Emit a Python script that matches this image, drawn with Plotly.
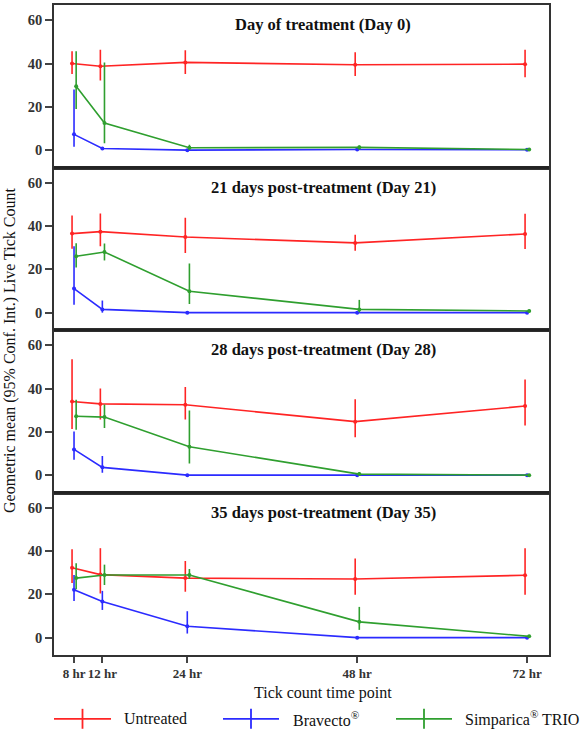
import plotly.graph_objects as go
from plotly.subplots import make_subplots

hours = [8, 12, 24, 48, 72]
hour_labels = ["8 hr", "12 hr", "24 hr", "48 hr", "72 hr"]
panel_titles = ["Day of treatment (Day 0)", "21 days post-treatment (Day 21)",
                "28 days post-treatment (Day 28)", "35 days post-treatment (Day 35)"]
group_names = ["Untreated", "Bravecto<sup>®</sup>", "Simparica<sup>®</sup> TRIO"]

untreated_mean = [[40.0, 38.7, 40.5, 39.4, 39.7], [36.5, 37.4, 34.9, 32.2, 36.3],
                  [34.0, 32.9, 32.5, 24.7, 31.9], [32.3, 29.1, 27.5, 27.1, 28.8]]
untreated_lo = [[35.2, 32.2, 35.2, 34.2, 33.7], [29.5, 30.6, 27.5, 28.6, 29.4],
                [21.3, 25.7, 25.7, 17.5, 22.9], [25.2, 20.4, 21.2, 19.8, 19.8]]
untreated_hi = [[45.6, 46.4, 46.1, 45.2, 46.4], [44.8, 45.8, 43.8, 36.0, 45.6],
                [53.5, 40.0, 40.7, 35.0, 44.2], [40.8, 41.3, 35.4, 36.5, 41.3]]

bravecto_mean = [[7.3, 0.8, 0.0, 0.3, 0.2], [11.1, 1.5, 0.0, 0.0, 0.0],
                 [11.9, 3.6, 0.0, 0.0, 0.0], [22.1, 16.7, 5.3, 0.0, 0.0]]
bravecto_lo = [[1.6, 0.3, 0.0, 0.1, 0.1], [3.6, 0.0, 0.0, 0.0, 0.0],
               [7.1, 1.1, 0.0, 0.0, 0.0], [16.9, 12.8, 1.9, 0.0, 0.0]]
bravecto_hi = [[28.0, 1.5, 0.2, 0.6, 0.4], [30.6, 5.6, 0.2, 0.1, 0.1],
               [20.1, 8.8, 0.2, 0.1, 0.1], [28.9, 21.6, 12.2, 0.2, 0.2]]

simparica_mean = [[29.5, 12.5, 1.1, 1.3, 0.3], [26.0, 28.0, 9.9, 1.5, 0.8],
                  [27.2, 26.8, 13.1, 0.5, 0.0], [27.5, 28.9, 28.9, 7.3, 0.6]]
simparica_lo = [[19.0, 3.2, 0.2, 0.3, 0.0], [20.9, 24.1, 4.0, 0.2, 0.1],
                [21.0, 21.8, 5.4, 0.1, 0.0], [22.4, 24.3, 27.1, 3.6, 0.1]]
simparica_hi = [[45.6, 40.5, 2.5, 2.2, 0.8], [32.0, 31.9, 22.7, 5.9, 1.5],
                [34.8, 32.6, 29.8, 1.5, 0.3], [34.3, 33.7, 31.7, 14.2, 1.2]]

colors = ["#ff2424", "#2b2bff", "#2f9f2f"]
dodge = [-0.28, 0.0, 0.3]

W, H = 582, 732
ML, MR, MT, MB = 54, 33, 3, 77
PW = W - ML - MR
PH = H - MT - MB
SERIF = "Liberation Serif, Times New Roman, serif"


def px_x(px):
    return (px - ML) / PW


def px_y(py):
    return (H - MB - py) / PH


fig = make_subplots(rows=4, cols=1, shared_xaxes=True, vertical_spacing=0)

groups = [(untreated_mean, untreated_lo, untreated_hi),
          (bravecto_mean, bravecto_lo, bravecto_hi),
          (simparica_mean, simparica_lo, simparica_hi)]

for p in range(4):
    for g, (m, lo, hi) in enumerate(groups):
        mean = m[p]
        up = [h - v for h, v in zip(hi[p], mean)]
        dn = [v - l for v, l in zip(mean, lo[p])]
        fig.add_trace(go.Scatter(
            x=[h + dodge[g] for h in hours], y=mean, mode="lines+markers",
            line=dict(color=colors[g], width=1.6),
            marker=dict(color=colors[g], size=4),
            error_y=dict(type="data", array=up, arrayminus=dn, symmetric=False,
                         color=colors[g], thickness=1.6, width=0),
            showlegend=False, hoverinfo="skip"), row=p + 1, col=1)

for p in range(4):
    r = p + 1
    fig.update_yaxes(range=[-8, 67], tickvals=[0, 20, 40, 60], ticks="outside",
                     ticklen=7, tickwidth=1.5, tickcolor="#444", showgrid=False,
                     zeroline=False, showline=True, mirror=True, linecolor="#333",
                     linewidth=1.5,
                     tickfont=dict(family=SERIF, size=14.5, color="#333", weight="bold"),
                     row=r, col=1)
    fig.update_xaxes(range=[5.17, 75.1], showgrid=False, zeroline=False,
                     showline=True, mirror=True, linecolor="#333", linewidth=1.5,
                     row=r, col=1)
    fig.add_annotation(text="<b>" + panel_titles[p] + "</b>", xref="paper", yref="paper",
                       x=px_x(323), y=px_y(MT + 163 * p + 20), showarrow=False,
                       xanchor="center", yanchor="middle",
                       font=dict(family=SERIF, size=16.5, color="#111"))

fig.update_xaxes(tickvals=hours, ticktext=hour_labels, ticks="outside", ticklen=6,
                 tickwidth=1.5, tickcolor="#444",
                 tickfont=dict(family=SERIF, size=13, color="#333", weight="bold"),
                 row=4, col=1)

# thicker separators between panels
for k in range(1, 4):
    yy = px_y(MT + 163 * k)
    fig.add_shape(type="line", xref="paper", yref="paper", x0=0, x1=1, y0=yy, y1=yy,
                  line=dict(color="#222", width=2.6))

# axis titles
fig.add_annotation(text="Tick count time point", xref="paper", yref="paper",
                   x=px_x(323), y=px_y(693), showarrow=False, xanchor="center",
                   yanchor="middle", font=dict(family=SERIF, size=16, color="#111"))
fig.add_annotation(text="Geometric mean (95% Conf. Int.) Live Tick Count", xref="paper",
                   yref="paper", x=px_x(10), y=px_y(350), showarrow=False, textangle=-90,
                   xanchor="center", yanchor="middle",
                   font=dict(family=SERIF, size=16, color="#111"))

# legend (drawn manually)
leg_y = 719
leg_items = [(54, 111, 122), (223, 279, 291), (396, 452, 463)]
for g, (x0, x1, tx) in enumerate(leg_items):
    fig.add_shape(type="line", xref="paper", yref="paper", x0=px_x(x0), x1=px_x(x1),
                  y0=px_y(leg_y), y1=px_y(leg_y), line=dict(color=colors[g], width=1.8))
    xm = (x0 + x1) / 2
    fig.add_shape(type="line", xref="paper", yref="paper", x0=px_x(xm), x1=px_x(xm),
                  y0=px_y(leg_y - 10), y1=px_y(leg_y + 10), line=dict(color=colors[g], width=1.8))
    fig.add_annotation(text=group_names[g], xref="paper", yref="paper", x=px_x(tx),
                       y=px_y(leg_y), showarrow=False, xanchor="left", yanchor="middle",
                       font=dict(family=SERIF, size=16, color="#111"))

fig.update_layout(width=W, height=H, margin=dict(l=ML, r=MR, t=MT, b=MB),
                  plot_bgcolor="white", paper_bgcolor="white", showlegend=False)

fig.write_html("out.html")
